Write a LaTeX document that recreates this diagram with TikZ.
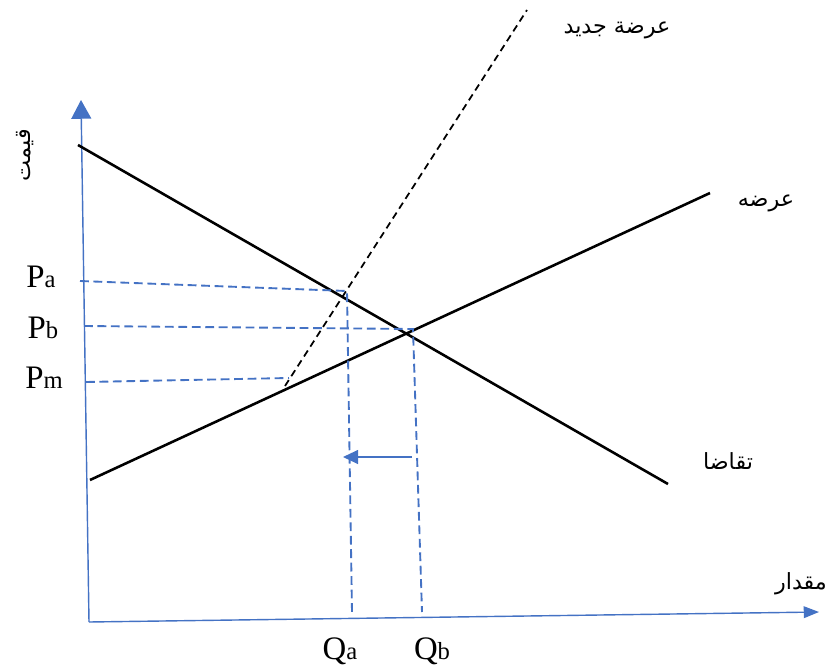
\documentclass[tikz,border=0pt]{standalone}
\usepackage{fontspec}
\setmainfont{Liberation Serif}
\newfontfamily\arabicfont[Script=Arabic]{DejaVu Sans}
\TeXXeTstate=1
\usetikzlibrary{arrows.meta}
\definecolor{axisblue}{RGB}{68,114,196}
\newcommand{\sm}[1]{{\fontsize{21}{24}\selectfont #1}}

\begin{document}
\begin{tikzpicture}[x=0.03cm,y=-0.03cm,
  axis/.style={draw=axisblue,line width=1.2pt},
  curve/.style={draw=black,line width=2.2pt},
  guide/.style={draw=axisblue,dashed,dash pattern=on 7.5pt off 4pt,line width=1.6pt},
  plabel/.style={font=\fontsize{28}{30}\selectfont,inner sep=0pt},
  flabel/.style={font=\arabicfont\fontsize{19}{22}\selectfont,inner sep=0pt}]
  \useasboundingbox (0,0) rectangle (828,670);
  % axes
  \coordinate (o) at (89,622);
  \coordinate (ytop) at (81,100);
  \coordinate (xend) at (819,612);
  \draw[axis,-{Triangle[length=16pt,width=17pt]},fill=axisblue] (o) -- (ytop);
  \draw[axis,-{Triangle[length=13pt,width=10pt]},fill=axisblue] (o) -- (xend);
  % demand and supply
  \coordinate (d1) at (78,145);
  \coordinate (d2) at (668,484);
  \coordinate (s1) at (90,480);
  \coordinate (s2) at (710,193);
  \coordinate (n1) at (285,386);
  \coordinate (n2) at (527,10);
  \draw[curve] (d1) -- (d2);
  \draw[curve] (s1) -- (s2);
  \draw[curve,line width=1.5pt,dashed,dash pattern=on 6pt off 4pt] (n1) -- (n2);
  % guide lines
  \coordinate (pa0) at (80,281);
  \coordinate (ea) at (347,291);
  \coordinate (qa0) at (352,612);
  \coordinate (pb0) at (84,326);
  \coordinate (eb) at (413,329);
  \coordinate (qb0) at (422,612);
  \coordinate (pm0) at (86,382);
  \coordinate (em) at (289,378);
  \draw[guide] (pa0) -- (ea) -- (qa0);
  \draw[guide] (pb0) -- (eb) -- (qb0);
  \draw[guide] (pm0) -- (em);
  % shift arrow
  \coordinate (sh1) at (412,457);
  \coordinate (sh2) at (343,457);
  \draw[axis,line width=1.3pt,-{Triangle[length=13pt,width=12pt]}] (sh1) -- (sh2);
  % labels
  \node[plabel] (pa) at (41,277) {P\sm{a}};
  \node[plabel] (pb) at (43,328) {P\sm{b}};
  \node[plabel] (pm) at (44,378) {P\sm{m}};
  \node[plabel] (qa) at (340,651) {Q\sm{a}};
  \node[plabel] (qb) at (432,651) {Q\sm{b}};
  \node[flabel] (newsup) at (617,30) {\beginR عرضة جدید\endR};
  \node[flabel] (sup) at (766,203) {\beginR عرضه\endR};
  \node[flabel] (dem) at (728,461) {\beginR تقاضا\endR};
  \node[flabel] (qty) at (801,584) {\beginR مقدار\endR};
  \node[flabel,rotate=90] (price) at (25,155) {\beginR قیمت\endR};
\end{tikzpicture}
\end{document}
